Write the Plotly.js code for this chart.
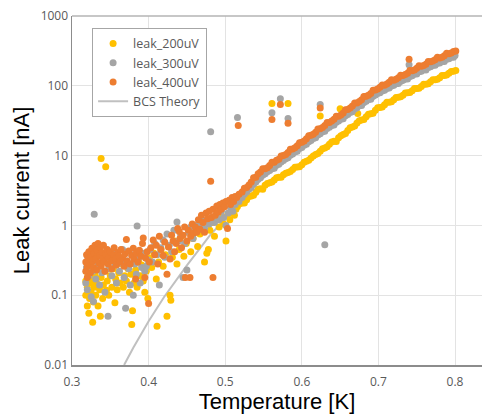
<!DOCTYPE html>
<html>
<head>
<meta charset="utf-8">
<script src="https://cdn.plot.ly/plotly-3.0.1.min.js"></script>
<style>html,body{margin:0;padding:0;background:#fff;}</style>
</head>
<body>
<div id="chart" style="width:482px;height:414px;"></div>
<script>
// ---------- DATA ----------
// leak_200uV (yellow): scattered low-temperature points + outliers
const x200Scatter = [
 0.318,0.318,0.319,0.320,0.320, 0.321,0.322,0.322,0.323,0.324,
 0.325,0.326,0.327,0.327,0.328, 0.329,0.330,0.331,0.332,0.334,
 0.335,0.336,0.337,0.338,0.338, 0.340,0.341,0.343,0.344,0.345,
 0.346,0.348,0.350,0.352,0.354, 0.356,0.357,0.359,0.361,0.363,
 0.365,0.367,0.369,0.371,0.373, 0.375,0.377,0.378,0.379,0.381,
 0.383,0.385,0.387,0.389,0.391, 0.393,0.395,0.397,0.399,
 0.401,0.404,0.407,0.410,0.411, 0.413,0.416,0.419,0.422,0.424,
 0.426,0.428,0.429,0.431,0.434, 0.437,0.440,0.443,0.446,0.449,
 0.452,0.455,0.458,0.461,0.464, 0.467,0.470,0.473,0.476,0.478,
 0.480,0.483,0.486,0.489,0.492, 0.495,0.498,0.501,0.503,0.506,
 0.509,0.512,0.514,
 0.561,0.582,0.624,0.650,0.673
];
const y200Scatter = [
 0.10,0.16,0.22,0.07,0.13, 0.19,0.055,0.28,0.09,0.15,
 0.11,0.24,0.041,0.17,0.08, 0.13,0.20,0.10,0.15,0.07,
 0.26,0.12,0.05,9.1,0.18, 0.09,0.14,0.22,6.9,0.118,
 0.16,0.10,0.19,0.13,0.24, 0.078,0.17,0.12,0.21,0.15,
 0.28,0.13,0.19,0.16,0.24, 0.11,0.20,0.038,0.06,0.15,
 0.23,0.13,0.30,0.19,0.27, 0.16,0.11,0.22,0.09,
 0.34,0.25,0.40,0.17,0.036, 0.30,0.45,0.26,0.38,0.05,
 0.50,0.10,0.085,0.35,0.60, 0.28,0.45,0.70,0.36,0.55,
 0.80,0.42,0.65,0.90,0.50, 0.75,1.0,0.30,0.40,0.45,
 0.85,1.1,0.70,1.2,0.95, 1.3,1.05,0.60,1.4,1.2,
 1.6,1.4,1.7,
 56,56,37,47,40
];
// leak_200uV smooth high-temperature band
const x200Curve = [
 0.516,0.522,0.528,0.534,0.540, 0.546,0.552,0.558,0.564,0.570,
 0.576,0.582,0.588,0.594,0.600, 0.606,0.612,0.618,0.624,0.630,
 0.636,0.642,0.648,0.654,0.660, 0.666,0.672,0.678,0.684,0.690,
 0.696,0.702,0.708,0.714,0.720, 0.726,0.732,0.738,0.744,0.750,
 0.756,0.762,0.768,0.774,0.780, 0.786,0.792,0.798,0.801,
 0.519,0.525,0.531,0.537,0.543, 0.549,0.555,0.561,0.567,0.573,
 0.579,0.585,0.591,0.597,0.603, 0.609,0.615,0.621,0.627,0.633,
 0.639,0.645,0.651,0.657,0.663, 0.669,0.675,0.681,0.687,0.693,
 0.699,0.705,0.711,0.717,0.723, 0.729,0.735,0.741,0.747,0.753,
 0.759,0.765,0.771,0.777,0.783, 0.789,0.795
];
const y200Curve = [
 1.86,2.09,2.34,2.63,2.99, 3.35,3.76,4.07,4.47,4.90,
 5.31,5.75,6.31,6.84,7.41, 8.32,9.23,10.4,11.5,12.9,
 14.5,16.0,18.0,20.0,22.9, 25.7,29.2,32.4,35.9,39.8,
 44.7,49.0,53.7,58.2,63.1, 68.4,73.3,79.4,85.1,91.2,
 97.7,105,114,122,130, 141,151,162,166,
 2.05,2.1,2.6,2.7,3.3, 3.3,4.0,4.2,4.8,4.9,
 5.6,5.9,6.8,6.9,8.0, 8.6,9.9,10.7,12.5,13.4,
 15.6,15.9,19.3,20.8,25.0, 26.5,31.7,33.0,39.0,40.5,
 48.5,49.5,58.0,59.0,68.0, 69.5,79.0,80.0,91.5,92.5,
 105,107,122,124,140, 143,160
];

// leak_300uV (gray)
const x300Scatter = [
 0.318,0.319,0.320,0.321,0.322, 0.324,0.325,0.326,0.327,0.328,
 0.329,0.330,0.331,0.333,0.334, 0.336,0.337,0.339,0.341,0.343,
 0.345,0.347,0.348,0.350,0.352, 0.354,0.356,0.358,0.360,0.362,
 0.364,0.366,0.368,0.370,0.372, 0.374,0.376,0.378,0.380,0.382,
 0.384,0.385,0.387,0.389,0.391, 0.393,0.395,0.397,0.399,
 0.402,0.405,0.408,0.411,0.414, 0.416,0.419,0.421,0.424,0.427,
 0.430,0.433,0.437,0.439,0.442, 0.445,0.447,0.450,0.452,0.455,
 0.458,0.461,0.464,0.467,0.470, 0.473,0.476,0.479,0.481,0.483,
 0.486,0.489,0.492,0.495,0.498, 0.501,0.504,0.507,0.510,0.513,
 0.516,0.518,0.520,
 0.561,0.572,0.582,0.624,0.630,0.740
];
const y300Scatter = [
 0.15,0.25,0.12,0.35,0.19, 0.28,0.095,0.40,0.22,0.081,
 1.44,0.31,0.17,0.45,0.26, 0.14,0.36,0.21,0.30,0.11,
 0.38,0.05,0.24,0.33,0.19, 0.42,0.27,0.15,0.35,0.22,
 0.29,0.45,0.18,0.065,0.31, 0.24,0.14,0.38,0.10,0.28,
 0.20,0.98,0.34,0.15,0.25, 0.40,0.22,0.26,0.32,
 0.45,0.30,0.55,0.38,0.14, 0.48,0.62,0.35,0.75,0.52,
 0.42,0.85,1.12,0.60,0.72, 0.18,0.55,0.23,0.80,0.95,
 0.65,1.0,0.85,1.0,1.15, 0.9,1.2,1.05,22,1.3,
 1.1,1.45,1.2,1.6,1.3, 1.0,1.5,1.8,1.6,2.0,
 35,2.2,2.5,
 41,65,34,54,0.53,200
];
const x300Curve = [
 0.525,0.531,0.537,0.543,0.549, 0.555,0.561,0.567,0.573,0.579,
 0.585,0.591,0.597,0.603,0.609, 0.615,0.621,0.627,0.633,0.639,
 0.645,0.651,0.657,0.663,0.669, 0.675,0.681,0.687,0.693,0.699,
 0.705,0.711,0.717,0.723,0.729, 0.735,0.741,0.747,0.753,0.759,
 0.765,0.771,0.777,0.783,0.789, 0.795,0.800,
 0.522,0.528,0.534,0.540,0.546, 0.552,0.558,0.564,0.570,0.576,
 0.582,0.588,0.594,0.600,0.606, 0.612,0.618,0.624,0.630,0.636,
 0.642,0.648,0.654,0.660,0.666, 0.672,0.678,0.684,0.690,0.696,
 0.702,0.708,0.714,0.720,0.726, 0.732,0.738,0.744,0.750,0.756,
 0.762,0.768,0.774,0.780,0.786, 0.792,0.798
];
const y300Curve = [
 2.8,3.3,3.9,4.6,5.3, 5.9,6.5,7.3,8.1,9.0,
 10.1,11.3,12.6,14.1,15.8, 17.6,19.7,22.0,24.4,27.1,
 30.0,33.2,37.1,41.6,46.4, 51.6,57.5,63.7,70.7,78.4,
 84.9,92,100,107.5,116.5, 125.6,135.5,147,158.7,169.9,
 182.8,197,209.8,223.6,239.5, 256.7,272,
 2.5,3.0,3.5,4.2,4.8, 5.5,6.1,6.6,7.5,8.5,
 9.3,10.5,11.5,13.1,14.5, 16.5,18.0,20.6,22.4,25.4,
 27.5,31.2,33.8,38.8,42.6, 48.4,52.4,60.2,64.4,74.0,
 79.3,86.7,93.0,102,108, 120,125,139,148,162,
 169,188,197,213,223, 245,257
];

// leak_400uV (orange)
const x400Scatter = [
 0.318,0.318,0.319,0.320,0.320, 0.321,0.322,0.323,0.324,0.325,
 0.326,0.327,0.328,0.329,0.330, 0.331,0.332,0.333,0.334,0.335,
 0.336,0.337,0.338,0.339,0.340, 0.341,0.342,0.343,0.344,0.346,
 0.347,0.348,0.350,0.351,0.352, 0.354,0.355,0.357,0.358,0.360,
 0.361,0.363,0.364,0.366,0.368, 0.369,0.371,0.372,0.374,0.376,
 0.378,0.380,0.381,0.383,0.384, 0.386,0.388,0.390,0.392,0.393,
 0.395,0.396,0.398,0.400,0.401,
 0.403,0.406,0.408,0.410,0.412, 0.414,0.416,0.419,0.421,0.424,
 0.426,0.428,0.430,0.432,0.434, 0.436,0.438,0.440,0.441,0.443,
 0.445,0.447,0.448,0.450,0.452, 0.454,0.455,0.457,0.459,0.461,
 0.463,0.465,0.467,0.469,0.471, 0.473,0.475,0.477,0.479,0.481,
 0.482,0.484,0.484,0.487,0.489, 0.491,0.493,0.495,0.497,0.499,
 0.501,0.503,0.505,0.507,0.509, 0.511,0.513,0.515,0.517,0.518,
 0.561,0.572,0.582,0.624,0.740
];
const y400Scatter = [
 0.22,0.30,0.38,0.26,0.18, 0.34,0.42,0.28,0.21,0.36,
 0.47,0.31,0.25,0.40,0.52, 0.33,0.23,0.44,0.55,0.29,
 0.37,0.48,0.26,0.41,0.33, 0.52,0.30,0.22,0.39,0.45,
 0.28,0.35,0.42,0.31,0.24, 0.38,0.48,0.33,0.27,0.41,
 0.36,0.30,0.45,0.34,0.26, 0.39,0.63,0.31,0.43,0.28,
 0.37,0.47,0.33,0.17,0.40, 0.30,0.44,0.36,0.55,0.66,
 0.18,0.34,0.42,0.076,0.30,
 0.48,0.62,0.38,0.52,0.28, 0.70,0.45,0.37,0.58,0.20,
 0.49,0.33,0.72,0.60,0.42, 0.55,0.90,0.82,0.65,0.48,
 0.72,0.95,0.18,0.60,0.85, 0.18,0.70,1.05,0.78,0.95,
 0.80,1.2,0.88,1.4,1.1, 0.80,1.5,1.25,1.6,4.3,
 1.3,0.18,1.7,1.4,1.9, 1.55,2.0,1.7,2.1,1.85,
 2.2,0.9,2.3,2.0,2.5, 2.2,2.6,2.5,27,2.8,
 33,54,29,48,240
];
const x400Curve = [
 0.522,0.528,0.534,0.540,0.546, 0.552,0.558,0.564,0.570,0.576,
 0.582,0.588,0.594,0.600,0.606, 0.612,0.618,0.624,0.630,0.636,
 0.642,0.648,0.654,0.660,0.666, 0.672,0.678,0.684,0.690,0.696,
 0.702,0.708,0.714,0.720,0.726, 0.732,0.738,0.744,0.750,0.756,
 0.762,0.768,0.774,0.780,0.786, 0.792,0.798,0.801,
 0.525,0.531,0.537,0.543,0.549, 0.555,0.561,0.567,0.573,0.579,
 0.585,0.591,0.597,0.603,0.609, 0.615,0.621,0.627,0.633,0.639,
 0.645,0.651,0.657,0.663,0.669, 0.675,0.681,0.687,0.693,0.699,
 0.705,0.711,0.717,0.723,0.729, 0.735,0.741,0.747,0.753,0.759,
 0.765,0.771,0.777,0.783,0.789, 0.795
];
const y400Curve = [
 3.0,3.5,4.2,4.9,5.8, 6.5,7.2,8.0,8.9,10.0,
 11.1,12.4,13.8,15.5,17.4, 19.5,21.6,24.3,26.9,29.9,
 33.1,36.7,40.7,45.7,51.3, 56.9,63.1,70.8,77.6,87.1,
 95.5,102,112,120,130, 141,151,164,178,191,
 204,221,237,251,269, 288,309,316,
 3.4,3.8,4.8,5.5,6.5, 6.7,8.0,8.6,9.9,10.4,
 12.3,13.0,15.3,16.2,19.3, 20.3,24.0,25.3,29.8,31.2,
 36.6,38.3,45.2,47.9,56.7, 59.4,70.2,73.4,86.3,90.3,
 103,106,122,124,142, 145,165,169,194,196,
 223,227,256,257,292, 295
];

// BCS Theory line (hidden under the gray band at high temperature)
const xBCS = [0.368,0.38,0.40,0.42,0.45,0.48,0.50,0.52,0.55,0.60,0.65,0.70,0.75,0.80];
const yBCS = [0.010,0.0177,0.0424,0.0935,0.268,0.72,1.25,2.4,4.8,13.0,31,72,140,255];

// Axis ticks
const xTickVals = [0.3,0.4,0.5,0.6,0.7,0.8];
const xTickText = ['0.3','0.4','0.5','0.6','0.7','0.8'];
const yTickVals = [0.01,0.1,1,10,100,1000];
const yTickText = ['0.01','0.1','1','10','100','1000'];

// ---------- CHART ----------
const mk = (c) => ({color:c, size:7, line:{width:0}});
const traces = [
  {x:xBCS, y:yBCS, name:'BCS Theory', type:'scatter', mode:'lines',
   line:{color:'#c0c0c0', width:2}, legendrank:4},
  {x:x200Scatter.concat(x200Curve), y:y200Scatter.concat(y200Curve), name:'leak_200uV',
   type:'scatter', mode:'markers', marker:mk('#FFC000'), legendrank:1},
  {x:x300Scatter.concat(x300Curve), y:y300Scatter.concat(y300Curve), name:'leak_300uV',
   type:'scatter', mode:'markers', marker:mk('#A5A5A5'), legendrank:2},
  {x:x400Scatter.concat(x400Curve), y:y400Scatter.concat(y400Curve), name:'leak_400uV',
   type:'scatter', mode:'markers', marker:mk('#ED7D31'), legendrank:3}
];

const tickFont = {family:'Open Sans, Segoe UI, sans-serif', size:12, color:'#595959'};
const layout = {
  width:482, height:414,
  margin:{l:72, r:0, t:16, b:49, pad:0},
  paper_bgcolor:'#ffffff', plot_bgcolor:'#ffffff',
  showlegend:true,
  legend:{x:0.049, y:0.966, xanchor:'left', yanchor:'top',
          bgcolor:'#ffffff', bordercolor:'#a6a6a6', borderwidth:1,
          font:{family:'Open Sans, Segoe UI, sans-serif', size:12.5, color:'#595959'},
          traceorder:'normal'},
  xaxis:{range:[0.3,0.8352], tickmode:'array', tickvals:xTickVals, ticktext:xTickText,
         showgrid:true, gridcolor:'#e3e3e3', gridwidth:1, zeroline:false,
         showline:true, linecolor:'#8c8c8c', linewidth:1.5, ticks:'',
         ticklabelstandoff:5,
         tickfont:tickFont,
         title:{text:'Temperature [K]', font:{family:'Liberation Sans, Arial, sans-serif', size:22, color:'#000000'}, standoff:4}},
  yaxis:{type:'log', range:[-2,3], tickmode:'array', tickvals:yTickVals, ticktext:yTickText,
         showgrid:true, gridcolor:'#e3e3e3', gridwidth:1, zeroline:false,
         showline:true, linecolor:'#8c8c8c', linewidth:1.5, ticks:'',
         tickfont:tickFont,
         title:{text:'Leak current [nA]', font:{family:'Liberation Sans, Arial, sans-serif', size:22, color:'#000000'}, standoff:5}},
  shapes:[{type:'line', xref:'paper', yref:'paper', x0:0, x1:1, y0:1, y1:1,
           line:{color:'#b4b4b4', width:1.5}}]
};

Plotly.newPlot('chart', traces, layout, {displayModeBar:false, staticPlot:true});
</script>
</body>
</html>
